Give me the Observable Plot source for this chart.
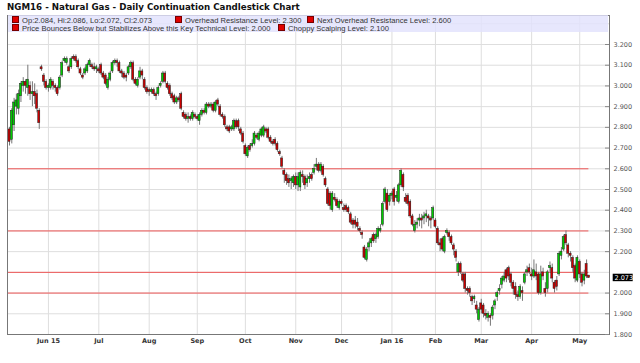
<!DOCTYPE html>
<html>
<head>
<meta charset="utf-8">
<script src="https://cdn.jsdelivr.net/npm/d3@7"></script>
<script src="https://cdn.jsdelivr.net/npm/@observablehq/plot@0.6"></script>
<style>
  body { margin: 0; background: #fff; }
  #wrap { position: relative; width: 640px; height: 363px; overflow: hidden; font-family: "DejaVu Sans", sans-serif; }
  #title { position: absolute; left: 7px; top: 1.5px; font: bold 8.7px "DejaVu Sans", sans-serif; color: #111; white-space: nowrap; }
  #legend { position: absolute; left: 8px; top: 15px; width: 600px; height: 17px; background: rgba(226,226,252,0.82); }
  .item { position: absolute; font: 7.6px/8px "Liberation Sans", sans-serif; color: #333; white-space: nowrap; }
  .sq { display: inline-block; width: 5px; height: 5px; background: #e00000; border: 0.5px solid #700; margin-right: 3px; vertical-align: -0.5px; }
</style>
</head>
<body>
<div id="wrap">
  <div id="chart"></div>
  <div id="title"></div>
  <div id="legend"></div>
</div>
<script>
// ---- data ----
const titleText = "NGM16 - Natural Gas - Daily Continuation Candlestick Chart";
const monthTickIndex = [17, 39, 61, 82, 103, 125, 145, 167, 186, 206, 228, 249];
const monthLabels = ["Jun 15", "Jul", "Aug", "Sep", "Oct", "Nov", "Dec", "Jan 16", "Feb", "Mar", "Apr", "May"];
const yTickValues = [1.8, 1.9, 2.0, 2.2, 2.3, 2.4, 2.5, 2.6, 2.7, 2.8, 2.9, 3.0, 3.1, 3.2];
const yGridValues = [1.9, 2.0, 2.1, 2.2, 2.3, 2.4, 2.5, 2.6, 2.7, 2.8, 2.9, 3.0, 3.1, 3.2, 3.3];
const levelValues = [2.6, 2.3, 2.1, 2.0];
const legendLine1 = ["Op:2.084, Hi:2.086, Lo:2.072, Cl:2.073", "Overhead Resistance Level: 2.300", "Next Overhead Resistance Level: 2.600"];
const legendLine2 = ["Price Bounces Below but Stabilizes Above this Key Technical Level: 2.000", "Choppy Scalping Level: 2.100"];

const opens = [
2.79,2.74,2.81,2.90,2.89,2.95,3.00,3.02,2.99,3.00,
2.96,2.97,2.96,2.88,3.09,3.05,3.02,2.99,2.99,3.02,
3.00,2.99,2.99,3.05,3.12,3.11,3.09,3.09,3.14,3.14,
3.12,3.08,3.05,3.06,3.07,3.10,3.10,3.09,3.08,3.08,
3.10,3.06,3.05,2.99,3.03,3.07,3.11,3.12,3.11,3.07,
3.06,3.05,3.06,3.09,3.11,3.03,3.00,3.04,3.07,3.03,
2.99,2.98,2.97,2.98,2.96,2.96,3.00,3.02,3.06,3.01,
3.00,2.96,2.95,2.92,2.94,2.96,2.87,2.86,2.84,2.85,
2.84,2.86,2.85,2.83,2.86,2.88,2.87,2.91,2.90,2.91,
2.88,2.93,2.90,2.86,2.85,2.80,2.80,2.79,2.79,2.83,
2.83,2.79,2.77,2.71,2.66,2.71,2.71,2.72,2.76,2.74,
2.76,2.76,2.79,2.79,2.75,2.73,2.74,2.72,2.68,2.65,
2.59,2.57,2.55,2.54,2.53,2.56,2.52,2.51,2.57,2.56,
2.53,2.55,2.57,2.58,2.61,2.62,2.59,2.61,2.55,2.50,
2.48,2.40,2.46,2.45,2.41,2.44,2.41,2.42,2.41,2.38,
2.35,2.35,2.34,2.31,2.29,2.22,2.16,2.22,2.24,2.28,
2.26,2.27,2.30,2.33,2.44,2.48,2.44,2.47,2.50,2.46,
2.44,2.52,2.57,2.46,2.47,2.44,2.37,2.30,2.33,2.35,
2.36,2.36,2.37,2.37,2.36,2.36,2.35,2.31,2.24,2.26,
2.20,2.29,2.29,2.27,2.23,2.20,2.10,2.14,2.09,2.09,
2.02,2.02,1.98,1.97,1.94,1.87,1.95,1.94,1.90,1.88,
1.89,1.89,1.94,1.98,2.01,2.04,2.06,2.11,2.12,2.09,
2.05,2.03,1.99,1.98,2.01,2.05,2.10,2.12,2.09,2.08,
2.10,2.09,2.00,2.10,2.02,2.02,2.12,2.12,2.05,2.06,
2.09,2.18,2.21,2.28,2.23,2.19,2.17,2.13,2.06,2.15,
2.09,2.06,2.14,2.084];
const highs = [
2.80,2.89,2.94,2.96,2.98,3.02,3.04,3.03,3.10,3.02,
3.02,3.01,2.98,2.89,3.10,3.06,3.03,3.01,3.04,3.03,
3.01,3.00,3.05,3.12,3.14,3.14,3.10,3.14,3.15,3.15,
3.13,3.09,3.06,3.09,3.11,3.13,3.11,3.11,3.10,3.09,
3.11,3.07,3.06,3.04,3.07,3.12,3.13,3.13,3.12,3.08,
3.07,3.06,3.10,3.12,3.12,3.04,3.04,3.09,3.08,3.04,
3.00,2.99,2.99,2.99,2.97,3.00,3.02,3.07,3.07,3.02,
3.01,2.97,2.96,2.95,2.95,2.97,2.88,2.87,2.87,2.86,
2.88,2.87,2.86,2.87,2.89,2.89,2.92,2.92,2.92,2.92,
2.93,2.94,2.91,2.87,2.86,2.81,2.81,2.81,2.84,2.84,
2.84,2.80,2.78,2.72,2.71,2.72,2.74,2.78,2.77,2.78,
2.80,2.81,2.80,2.80,2.76,2.74,2.75,2.73,2.69,2.66,
2.60,2.58,2.57,2.56,2.57,2.58,2.58,2.59,2.59,2.57,
2.57,2.58,2.58,2.62,2.65,2.63,2.63,2.62,2.56,2.51,
2.49,2.49,2.48,2.46,2.45,2.45,2.43,2.43,2.42,2.39,
2.36,2.37,2.36,2.32,2.30,2.23,2.22,2.25,2.27,2.29,
2.29,2.32,2.33,2.44,2.51,2.50,2.48,2.49,2.51,2.49,
2.53,2.60,2.58,2.48,2.48,2.45,2.38,2.35,2.36,2.38,
2.38,2.39,2.40,2.38,2.37,2.42,2.36,2.32,2.26,2.27,
2.28,2.31,2.30,2.28,2.24,2.21,2.15,2.15,2.10,2.10,
2.03,2.03,1.99,1.99,1.96,1.93,1.97,1.95,1.92,1.91,
1.90,1.94,1.97,2.01,2.04,2.08,2.10,2.12,2.13,2.10,
2.06,2.05,2.01,2.04,2.03,2.10,2.13,2.14,2.12,2.16,
2.14,2.10,2.13,2.12,2.05,2.11,2.15,2.14,2.06,2.08,
2.20,2.22,2.28,2.30,2.24,2.20,2.18,2.14,2.18,2.16,
2.10,2.11,2.16,2.086];
const lows = [
2.71,2.72,2.78,2.86,2.86,2.92,2.97,2.96,2.95,2.93,
2.90,2.91,2.87,2.79,3.07,3.00,2.98,2.97,2.98,2.98,
2.97,2.95,2.98,3.04,3.11,3.10,3.06,3.08,3.12,3.11,
3.08,3.05,3.03,3.05,3.06,3.09,3.08,3.07,3.06,3.06,
3.05,3.03,3.00,2.98,3.02,3.06,3.10,3.09,3.06,3.04,
3.03,3.02,3.05,3.08,3.02,3.00,2.99,3.03,3.03,2.98,
2.96,2.95,2.96,2.95,2.93,2.95,2.99,3.01,3.01,2.98,
2.95,2.93,2.91,2.91,2.92,2.88,2.84,2.83,2.82,2.83,
2.83,2.84,2.83,2.81,2.85,2.86,2.86,2.89,2.89,2.87,
2.87,2.90,2.85,2.84,2.80,2.78,2.77,2.78,2.78,2.79,
2.78,2.76,2.72,2.66,2.65,2.68,2.70,2.71,2.74,2.73,
2.75,2.75,2.77,2.74,2.72,2.71,2.71,2.68,2.66,2.60,
2.53,2.52,2.51,2.50,2.51,2.50,2.49,2.49,2.53,2.50,
2.51,2.53,2.54,2.57,2.59,2.58,2.58,2.56,2.51,2.42,
2.40,2.39,2.44,2.41,2.40,2.42,2.39,2.39,2.38,2.33,
2.31,2.31,2.30,2.29,2.26,2.16,2.15,2.20,2.22,2.24,
2.24,2.26,2.29,2.32,2.43,2.39,2.42,2.45,2.42,2.44,
2.43,2.51,2.49,2.43,2.42,2.36,2.32,2.29,2.31,2.32,
2.31,2.33,2.34,2.32,2.31,2.35,2.31,2.23,2.20,2.20,
2.19,2.28,2.25,2.23,2.18,2.15,2.08,2.09,2.05,2.00,
1.99,1.98,1.94,1.95,1.90,1.86,1.90,1.88,1.87,1.86,
1.84,1.87,1.92,1.96,1.99,2.02,2.05,2.05,2.06,2.03,
1.99,1.97,1.96,1.97,1.96,2.04,2.08,2.09,2.06,2.07,
2.06,1.99,1.99,2.06,1.98,2.00,2.10,2.05,2.00,2.01,
2.08,2.16,2.20,2.23,2.17,2.15,2.10,2.05,2.05,2.07,
2.03,2.04,2.07,2.072];
const closes = [
2.73,2.88,2.92,2.93,2.96,3.01,3.02,3.00,3.03,2.96,
2.97,2.95,2.89,2.82,3.08,3.02,2.99,3.00,3.03,3.00,
2.99,2.96,3.04,3.11,3.13,3.13,3.07,3.13,3.13,3.12,
3.09,3.06,3.04,3.08,3.10,3.12,3.09,3.08,3.09,3.07,
3.06,3.04,3.01,3.03,3.06,3.11,3.12,3.11,3.07,3.06,
3.04,3.04,3.09,3.11,3.03,3.01,3.03,3.07,3.05,2.99,
2.97,2.97,2.98,2.96,2.95,2.99,3.01,3.06,3.02,2.99,
2.96,2.94,2.92,2.94,2.93,2.89,2.85,2.84,2.85,2.84,
2.87,2.85,2.84,2.86,2.88,2.87,2.91,2.90,2.91,2.88,
2.92,2.91,2.86,2.85,2.81,2.79,2.78,2.80,2.83,2.80,
2.80,2.77,2.73,2.67,2.70,2.69,2.72,2.77,2.75,2.77,
2.79,2.80,2.78,2.75,2.73,2.72,2.72,2.69,2.67,2.61,
2.57,2.54,2.53,2.55,2.56,2.52,2.56,2.58,2.56,2.52,
2.55,2.56,2.55,2.60,2.62,2.59,2.62,2.57,2.52,2.43,
2.42,2.48,2.45,2.42,2.44,2.43,2.40,2.40,2.39,2.34,
2.33,2.33,2.32,2.30,2.28,2.17,2.21,2.24,2.26,2.25,
2.28,2.31,2.31,2.43,2.50,2.40,2.47,2.48,2.44,2.47,
2.52,2.59,2.51,2.44,2.43,2.37,2.33,2.33,2.34,2.36,
2.35,2.37,2.38,2.36,2.35,2.41,2.32,2.24,2.23,2.21,
2.27,2.30,2.27,2.24,2.21,2.17,2.14,2.10,2.06,2.02,
2.01,2.00,1.96,1.98,1.92,1.92,1.92,1.90,1.89,1.90,
1.88,1.93,1.96,2.00,2.02,2.07,2.08,2.07,2.08,2.05,
2.02,1.99,1.98,2.03,2.00,2.09,2.11,2.10,2.08,2.11,
2.08,2.00,2.09,2.08,2.00,2.10,2.13,2.07,2.02,2.03,
2.19,2.20,2.27,2.24,2.19,2.18,2.12,2.07,2.17,2.09,
2.05,2.09,2.08,2.073];

// ---- build table ----
const candles = closes.map((c, i) => ({i, o: opens[i], h: highs[i], l: lows[i], c}));
const lastClose = closes[closes.length - 1];
const lastIndex = closes.length - 1;
const xDomain = [-0.87, 262];

const fmt = d3.format(".3f");

const chart = Plot.plot({
  width: 640,
  height: 363,
  marginTop: 15,
  marginBottom: 29,
  marginLeft: 7,
  marginRight: 31,
  x: {domain: xDomain, axis: null, label: null},
  y: {domain: [1.8, 3.34], axis: null, label: null},
  style: {background: "transparent", fontFamily: "DejaVu Sans, sans-serif"},
  marks: [
    Plot.gridY(yGridValues, {stroke: "#dedede", strokeOpacity: 1}),
    Plot.gridX(monthTickIndex, {stroke: "#dedede", strokeOpacity: 1}),
    Plot.ruleY(levelValues, {x1: xDomain[0], x2: lastIndex, stroke: "#ee5555", strokeWidth: 1}),
    Plot.ruleX(candles, {x: "i", y1: "l", y2: "h", stroke: "#777", strokeWidth: 1}),
    Plot.rect(candles, {
      x1: d => d.i - 0.45,
      x2: d => d.i + 0.45,
      y1: "o",
      y2: d => Math.abs(d.c - d.o) < 0.004 ? d.o + (d.c >= d.o ? 0.004 : -0.004) : d.c,
      fill: d => d.c >= d.o ? "#00cc00" : "#cc0000",
      stroke: "#222",
      strokeWidth: 0.5
    }),
    Plot.frame({stroke: "#777"}),
    Plot.ruleY(yTickValues, {x1: xDomain[1] - 4 * (xDomain[1] - xDomain[0]) / 602, x2: xDomain[1], stroke: "#888"}),
    Plot.axisX(monthTickIndex, {
      anchor: "bottom", tickSize: 0, tickPadding: 4, label: null,
      tickFormat: (d, k) => monthLabels[monthTickIndex.indexOf(d)],
      fontSize: 6.5, fontWeight: "bold", fill: "#333"
    }),
    Plot.axisY(yTickValues, {
      anchor: "right", tickSize: 0, tickPadding: 4, label: null,
      tickFormat: fmt, fontSize: 6.5, fill: "#555"
    }),
    Plot.rect([lastClose], {
      x1: xDomain[1] + 3.7 * (xDomain[1] - xDomain[0]) / 602,
      x2: xDomain[1] + 23.7 * (xDomain[1] - xDomain[0]) / 602,
      y1: d => d - 0.018, y2: d => d + 0.018, fill: "#000"
    }),
    Plot.text([lastClose], {
      x: xDomain[1], y: d => d, dx: 5, text: fmt, textAnchor: "start",
      fill: "#fff", fontSize: 6.5
    })
  ]
});
document.getElementById("chart").appendChild(chart);

document.getElementById("title").textContent = titleText;

const legend = document.getElementById("legend");
const pos1 = [4, 167, 299];
const pos2 = [4, 270];
function addItem(text, left, top) {
  const el = document.createElement("div");
  el.className = "item";
  el.style.left = left + "px";
  el.style.top = top + "px";
  const sq = document.createElement("span");
  sq.className = "sq";
  el.appendChild(sq);
  el.appendChild(document.createTextNode(text));
  legend.appendChild(el);
}
legendLine1.forEach((t, k) => addItem(t, pos1[k], 1));
legendLine2.forEach((t, k) => addItem(t, pos2[k], 8.5));
</script>
</body>
</html>
